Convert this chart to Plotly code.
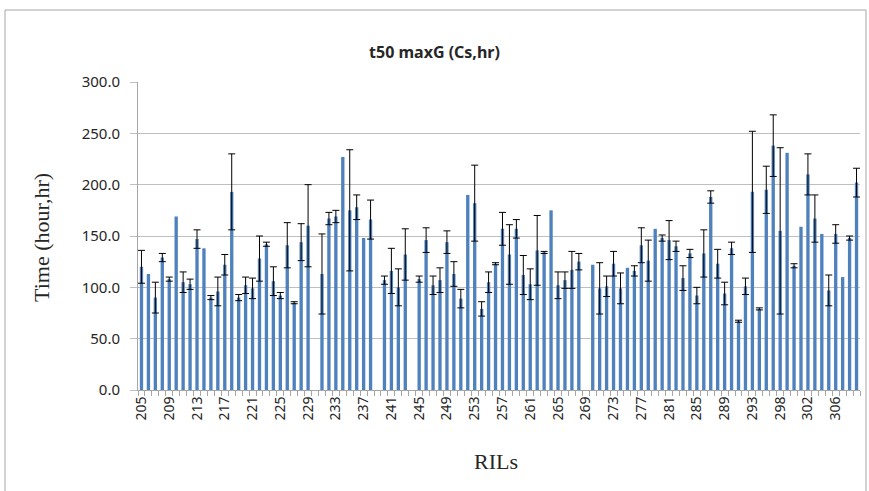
import plotly.graph_objects as go

categories = [str(v) for v in range(205, 294)] + ["294", "295", "297"] + [str(v) for v in range(298, 310)]

means = [
    120, 113, 90, 129, 108, 169, 105, 103, 147, 138,
    90, 96, 122, 193, 90, 102, 99, 128, 142, 106,
    92, 141, 85, 144, 160, None, 113, 167, 169, 227,
    175, 178, 148, 166, None, 107, 116, 100, 132, None,
    108, 146, 102, 107, 144, 113, 89, 190, 182, 79,
    105, 123, 157, 132, 157, 112, 103, 136, 134, 175,
    102, 107, 117, 125, None, 122, 99, 101, 123, 99,
    119, 116, 141, 126, 157, 148, 146, 140, 109, 133,
    92, 133, 188, 123, 94, 138, 67, 101, 193, 79,
    195, 238, 155, 231, 121, 159, 210, 167, 152, 97,
    152, 110, 148, 202,
]

errors = [
    16, None, 15, 4, 2, None, 10, 5, 9, None,
    2, 14, 10, 37, 3, 8, 10, 22, 2, 14,
    3, 22, 1, 18, 40, None, 39, 6, 6, None,
    59, 12, None, 19, None, 4, 22, 18, 25, None,
    3, 12, 9, 12, 11, 12, 9, None, 37, 7,
    10, 1, 16, 29, 9, 19, 15, 34, 1, None,
    13, 8, 18, 8, None, None, 25, 10, 12, 15,
    None, 5, 17, 20, None, 3, 19, 5, 12, 4,
    8, 23, 6, 14, 11, 6, 1, 8, 59, 1,
    23, 30, 81, None, 2, None, 20, 23, None, 15,
    9, None, 2, 14,
]

tick_text = [c if i % 4 == 0 else "" for i, c in enumerate(categories)]

# points that carry an error bar
err_x = [c for c, m, e in zip(categories, means, errors) if m is not None and e is not None]
err_y = [m for m, e in zip(means, errors) if m is not None and e is not None]
err_v = [e for m, e in zip(means, errors) if m is not None and e is not None]

W, H = 869, 491
L, R, T, B = 138, 9, 82, 101
pw, ph = W - L - R, H - T - B

def px(x):
    return (x - L) / pw

def py(y):
    return (H - B - y) / ph

fig = go.Figure()
fig.add_trace(go.Bar(
    x=categories,
    y=means,
    marker=dict(color="#4F81BD", line=dict(width=0)),
    hoverinfo="x+y",
))
fig.add_trace(go.Scatter(
    x=err_x,
    y=err_y,
    mode="markers",
    marker=dict(size=1, opacity=0),
    error_y=dict(type="data", array=err_v, symmetric=True, visible=True,
                 color="#000000", thickness=1, width=3.5),
    hoverinfo="skip",
))

fig.update_layout(
    width=W, height=H,
    margin=dict(l=L, r=R, t=T, b=B),
    paper_bgcolor="white", plot_bgcolor="white",
    bargap=0.52,
    showlegend=False,
    font=dict(family="Noto Sans", color="#262626"),
    title=dict(text="<b>t50 maxG (Cs,hr)</b>", x=0.5, xref="container", xanchor="center",
               y=1 - 52 / H, yref="container", yanchor="middle",
               font=dict(family="Noto Sans", size=16, color="#262626")),
    xaxis=dict(
        type="category", categoryorder="array", categoryarray=categories,
        range=[-0.5, len(categories) - 0.5], autorange=False,
        tickmode="array", tickvals=categories, ticktext=tick_text,
        tickson="boundaries", ticks="outside", ticklen=5, tickcolor="#A6A6A6",
        tickangle=-90, tickfont=dict(family="Noto Sans", size=14, color="#262626"),
        showline=True, linecolor="#A6A6A6", linewidth=1,
        showgrid=False, zeroline=False,
    ),
    yaxis=dict(
        range=[0, 300], autorange=False, dtick=50, tick0=0, tickformat=".1f",
        ticks="outside", ticklen=7, tickcolor="#BFBFBF", ticklabelstandoff=7,
        tickfont=dict(family="Noto Sans", size=15, color="#262626"),
        showline=True, linecolor="#A6A6A6", linewidth=1,
        showgrid=True, gridcolor="#BFBFBF", gridwidth=1, zeroline=False,
    ),
    annotations=[
        dict(text="Time (hour,hr)", x=px(41), y=py(238), xref="paper", yref="paper",
             textangle=-90, showarrow=False, xanchor="center", yanchor="middle",
             font=dict(family="Liberation Serif", size=22, color="#262626")),
        dict(text="RILs", x=px(496), y=py(461), xref="paper", yref="paper",
             showarrow=False, xanchor="center", yanchor="middle",
             font=dict(family="Liberation Serif", size=22, color="#262626")),
    ],
    shapes=[
        dict(type="rect", xref="paper", yref="paper",
             x0=px(5), x1=px(866), y0=py(520), y1=py(10),
             line=dict(color="#A6A6A6", width=1), fillcolor="rgba(0,0,0,0)", layer="below"),
    ],
)

fig.write_html("out.html", config={"displayModeBar": False},
               post_script="document.body.style.margin='0';document.body.style.padding='0';")
